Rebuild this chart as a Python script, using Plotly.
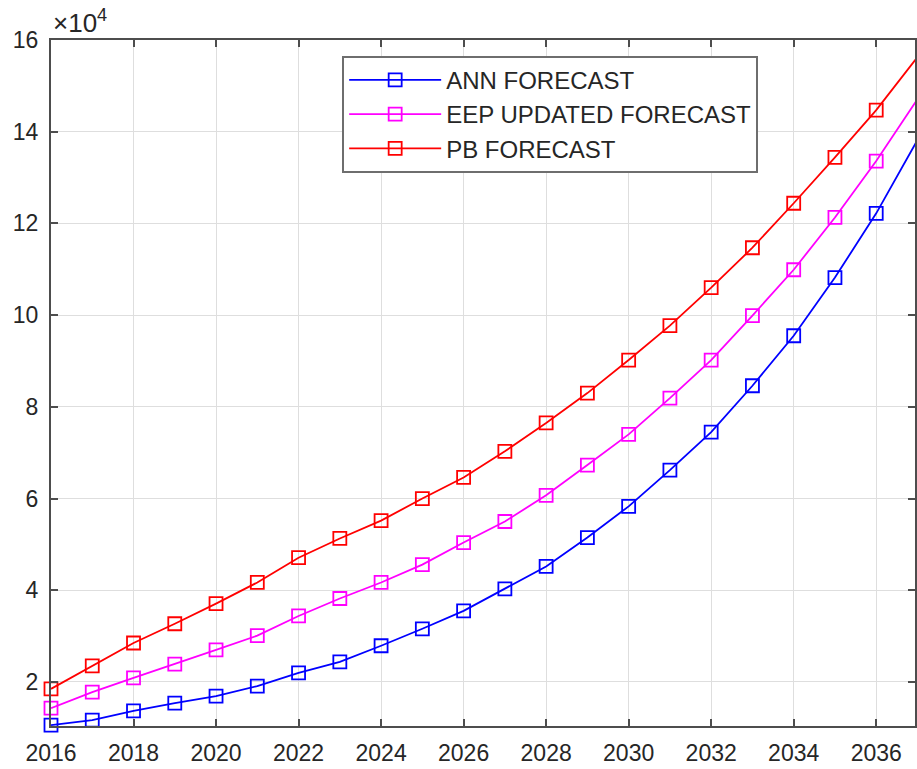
import plotly.graph_objects as go

# Forecast years
years = list(range(2016, 2038))

# Forecast series (same units as the y axis before the x10^4 scaling)
ann_forecast = [10600, 11700, 13700, 15400, 16900, 19100, 22000, 24400, 27900, 31600,
                35500, 40300, 45200, 51500, 58300, 66200, 74500, 84600, 95500, 108200,
                122200, 138200]
eep_updated_forecast = [14300, 17800, 20900, 23900, 27000, 30100, 34400, 38200, 41700, 45600,
                        50400, 55000, 60700, 67300, 74000, 81900, 90200, 99900, 109900, 121300,
                        133600, 147100]
pb_forecast = [18500, 23500, 28500, 32700, 37100, 41700, 47100, 51300, 55200, 60000,
               64600, 70300, 76500, 83000, 90200, 97700, 106000, 114700, 124400, 134400,
               144700, 156300]

series_names = ["ANN FORECAST", "EEP UPDATED FORECAST", "PB FORECAST"]
series_colors = ["#0000ff", "#ff00ff", "#ff0000"]

x_tick_vals = list(range(2016, 2037, 2))
x_tick_text = [str(v) for v in x_tick_vals]
y_tick_vals = [20000, 40000, 60000, 80000, 100000, 120000, 140000, 160000]
y_tick_text = ["2", "4", "6", "8", "10", "12", "14", "16"]

FONT = "Liberation Sans, Arial, Helvetica, sans-serif"
AXIS_COLOR = "#4d4d4d"
GRID_COLOR = "#dedede"
TEXT_COLOR = "#262626"

fig = go.Figure()
for name, values, color in zip(series_names,
                               [ann_forecast, eep_updated_forecast, pb_forecast],
                               series_colors):
    fig.add_trace(go.Scatter(
        x=years, y=values, name=name, mode="lines+markers",
        line=dict(color=color, width=1.8),
        marker=dict(symbol="square-open", size=13, color=color,
                    line=dict(width=1.8, color=color)),
        cliponaxis=False,
    ))

fig.update_layout(
    width=917, height=769,
    margin=dict(l=51, r=0, t=40, b=43),
    paper_bgcolor="white", plot_bgcolor="white",
    font=dict(family=FONT, size=23, color=TEXT_COLOR),
    showlegend=True,
    legend=dict(
        x=0.337, y=0.977, xanchor="left", yanchor="top",
        bgcolor="white", bordercolor="#6e6e6e", borderwidth=2,
        font=dict(family=FONT, size=24, color=TEXT_COLOR),
        tracegroupgap=0, itemwidth=92,
    ),
)

fig.update_xaxes(
    range=[2016, 2036.94], tickvals=x_tick_vals, ticktext=x_tick_text,
    showgrid=True, gridcolor=GRID_COLOR, gridwidth=1,
    showline=True, linecolor=AXIS_COLOR, linewidth=2, mirror="ticks",
    ticks="inside", ticklen=7, tickwidth=1.5, tickcolor=AXIS_COLOR,
    ticklabelstandoff=5, zeroline=False,
    tickfont=dict(family=FONT, size=23, color=TEXT_COLOR),
)
fig.update_yaxes(
    range=[10400, 160000], tickvals=y_tick_vals, ticktext=y_tick_text,
    showgrid=True, gridcolor=GRID_COLOR, gridwidth=1,
    showline=True, linecolor=AXIS_COLOR, linewidth=2, mirror="ticks",
    ticks="inside", ticklen=7, tickwidth=1.5, tickcolor=AXIS_COLOR,
    ticklabelstandoff=6, zeroline=False,
    tickfont=dict(family=FONT, size=23, color=TEXT_COLOR),
)

# Axis exponent label
fig.add_annotation(
    xref="paper", yref="paper", x=0.0, y=1.0, xanchor="left", yanchor="bottom",
    xshift=0, yshift=0, showarrow=False,
    text="\u00d710<sup>4</sup>", font=dict(family=FONT, size=26, color=TEXT_COLOR),
)

fig.write_html("out.html")
